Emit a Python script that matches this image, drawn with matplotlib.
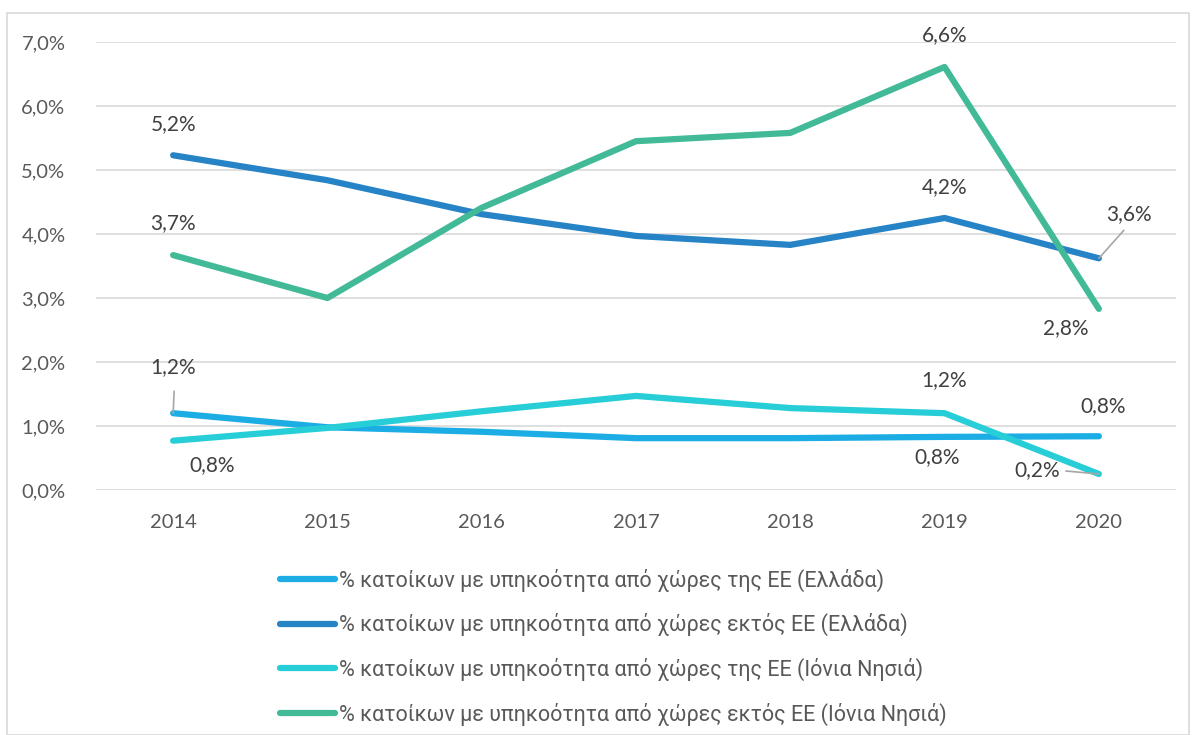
import matplotlib
matplotlib.use("Agg")
import matplotlib.pyplot as plt
from matplotlib.patches import Rectangle

years = ["2014", "2015", "2016", "2017", "2018", "2019", "2020"]
eu_greece = [1.20, 0.98, 0.91, 0.81, 0.81, 0.83, 0.84]
noneu_greece = [5.23, 4.84, 4.31, 3.97, 3.83, 4.25, 3.62]
eu_ionian = [0.77, 0.97, 1.23, 1.47, 1.28, 1.20, 0.25]
noneu_ionian = [3.67, 3.00, 4.41, 5.45, 5.58, 6.61, 2.83]

names = [
    "% κατοίκων με υπηκοότητα από χώρες της ΕΕ (Ελλάδα)",
    "% κατοίκων με υπηκοότητα από χώρες εκτός ΕΕ (Ελλάδα)",
    "% κατοίκων με υπηκοότητα από χώρες της ΕΕ (Ιόνια Νησιά)",
    "% κατοίκων με υπηκοότητα από χώρες εκτός ΕΕ (Ιόνια Νησιά)",
]
colors = ["#1CADE4", "#2683C6", "#27CED7", "#42BA97"]
series = [eu_greece, noneu_greece, eu_ionian, noneu_ionian]

# labelled points: (series index, year index, text offset in px (dx, dy), leader)
labels = [
    (1, 0, (0, 31), False), (3, 0, (0, 32), False), (0, 0, (0, 46), True),
    (2, 0, (39, -24), False), (3, 5, (0, 32), False), (1, 5, (0, 31), False),
    (1, 6, (30, 44), True), (3, 6, (-33, -19), False), (2, 5, (0, 33), False),
    (0, 6, (4, 30), False), (0, 5, (-7, -20), False), (2, 6, (-62, 4), True),
]

plt.rcParams["font.family"] = ["Lato", "Roboto", "DejaVu Sans"]
fig = plt.figure(figsize=(11.96, 7.35), dpi=100)
ax = fig.add_axes([96 / 1196, 1 - 490 / 735, 1080 / 1196, 448 / 735])

x = list(range(len(years)))
for s, c, n in zip(series, colors, names):
    ax.plot(x, s, color=c, lw=4.5, solid_capstyle="round", solid_joinstyle="round", label=n)

for si, yi, (dx, dy), leader in labels:
    v = series[si][yi]
    txt = ("%.1f%%" % v).replace(".", ",")
    ax.annotate(txt, xy=(yi, v), xytext=(dx * 0.72, dy * 0.72), textcoords="offset points",
                ha="center", va="center", fontsize=15, color="#404040")
    if leader:
        if dx == 0:
            pts = ((0, 0), (1, 22))
        elif dx > 0:
            pts = ((0, 0), (25, 28))
        else:
            pts = ((0, 0), (-33, 3))
        ax.annotate("", xy=(yi, v), xytext=(pts[1][0] * 0.72, pts[1][1] * 0.72),
                    textcoords="offset points",
                    arrowprops=dict(arrowstyle="-", color="#A6A6A6", lw=1.2, shrinkA=0, shrinkB=0))

ax.set_xlim(-0.5, 6.5)
ax.set_ylim(0, 7)
ax.set_xticks(x)
ax.set_xticklabels(years)
ax.set_yticks(range(8))
ax.set_yticklabels([("%.1f%%" % v).replace(".", ",") for v in range(8)])
ax.tick_params(length=0, labelsize=14.5, labelcolor="#595959", pad=22)
ax.tick_params(axis="x", pad=17)
ax.grid(axis="y", color="#D9D9D9", lw=1.2)
ax.set_axisbelow(True)
for sp in ax.spines.values():
    sp.set_visible(False)

leg = fig.legend(loc="upper left", bbox_to_anchor=(271 / 1196, 1 - 560 / 735), frameon=False,
                 prop={"family": "Roboto", "size": 15.5}, labelcolor="#595959",
                 handlelength=2.55, handletextpad=0.2, labelspacing=1.0, borderaxespad=0)

fig.patches.append(Rectangle((7 / 1196, 0), 1182 / 1196, 1 - 13 / 735, transform=fig.transFigure,
                             fill=False, edgecolor="#D9D9D9", lw=1.2))

fig.savefig("out.png", dpi=100)
